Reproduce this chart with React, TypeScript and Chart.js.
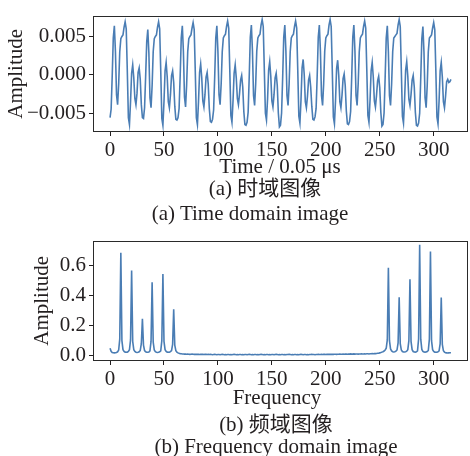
import React, { useEffect, useRef } from "react";
import { Chart, registerables } from "chart.js";

Chart.register(...registerables);

// ---------- data ----------
const timeAmplitude: number[] = [
  // 0..30
  -0.0056, -0.0045, -0.0002, 0.0048, 0.0064, 0.003, -0.0026, -0.0039, -0.0012, 0.003, 0.0047, 0.005, 0.0052, 0.0062, 0.0069, 0.006,
  0.0005, -0.0056, -0.0065, -0.0035, 0.0002, 0.0013, -0.0004, -0.0031, -0.0039, -0.0024, 0.0003, 0.0009, -0.0006, -0.0039, -0.0056,
  // 31..62
  -0.0057, -0.0043, -0.0002, 0.0043, 0.0059, 0.0028, -0.003, -0.0043, -0.0014, 0.003, 0.0047, 0.005, 0.0052, 0.0062, 0.0069, 0.006,
  0.0005, -0.0057, -0.0066, -0.0035, 0.0005, 0.0016, -0.0003, -0.0035, -0.0043, -0.0026, -0.0001, 0.0005, -0.001, -0.0041, -0.0058, -0.0059,
  // 63..94
  -0.0056, -0.0044, -0.0002, 0.0048, 0.0064, 0.003, -0.0029, -0.0042, -0.0013, 0.003, 0.0047, 0.005, 0.0052, 0.0061, 0.0068, 0.0059,
  0.0005, -0.0056, -0.0065, -0.0035, 0.0003, 0.0014, -0.0004, -0.0034, -0.0042, -0.0026, -0.0003, 0.0003, -0.0012, -0.0044, -0.0061, -0.0062,
  // 95..126
  -0.0058, -0.0046, -0.0003, 0.0048, 0.0064, 0.003, -0.0026, -0.0039, -0.0012, 0.003, 0.0048, 0.0051, 0.0053, 0.0063, 0.007, 0.0061,
  0.0006, -0.0053, -0.0062, -0.0034, 0.0002, 0.0013, -0.0004, -0.0031, -0.0039, -0.0025, -0.0007, -0.0001, -0.0016, -0.0048, -0.0065, -0.0066,
  // 127..157
  -0.0062, -0.0049, -0.0003, 0.0049, 0.0065, 0.0031, -0.0027, -0.004, -0.0012, 0.0031, 0.0048, 0.0051, 0.0053, 0.0065, 0.0072, 0.0063,
  0.0007, -0.005, -0.0059, -0.0032, 0.0006, 0.0017, -0.0002, -0.0034, -0.0042, -0.0026, -0.0004, 0.0002, -0.0014, -0.005, -0.0068,
  // 158..189
  -0.0066, -0.005, -0.0004, 0.0049, 0.0065, 0.0031, -0.0027, -0.004, -0.0012, 0.003, 0.0048, 0.0051, 0.0053, 0.0063, 0.007, 0.0061,
  0.0006, -0.0054, -0.0063, -0.0033, 0.0009, 0.002, 0.0, -0.0035, -0.0043, -0.0028, -0.0007, -0.0001, -0.0016, -0.0041, -0.0058, -0.0059,
  // 190..221
  -0.0055, -0.0044, -0.0002, 0.0049, 0.0065, 0.0031, -0.0027, -0.004, -0.0012, 0.0031, 0.0048, 0.0051, 0.0053, 0.0065, 0.0072, 0.0063,
  0.0006, -0.0055, -0.0064, -0.0034, 0.0008, 0.0019, -0.0001, -0.0035, -0.0043, -0.0027, -0.0005, 0.0001, -0.0014, -0.0047, -0.0064, -0.0065,
  // 222..252
  -0.0061, -0.0048, -0.0003, 0.0049, 0.0065, 0.0031, -0.0027, -0.004, -0.0012, 0.003, 0.0048, 0.0051, 0.0053, 0.0063, 0.007, 0.0061,
  0.0006, -0.0053, -0.0062, -0.0033, 0.0005, 0.0016, -0.0003, -0.0034, -0.0042, -0.0027, -0.0008, -0.0002, -0.0017, -0.0049, -0.0067,
  // 253..285
  -0.0065, -0.005, -0.0004, 0.0048, 0.0064, 0.003, -0.0027, -0.004, -0.0012, 0.003, 0.0048, 0.005, 0.0052, 0.0054, 0.0065, 0.0072, 0.0063,
  0.0006, -0.0054, -0.0063, -0.0033, 0.0006, 0.0017, -0.0002, -0.0032, -0.004, -0.0026, -0.0007, -0.0001, -0.0016, -0.0049, -0.0066, -0.0067,
  // 286..316
  -0.0063, -0.005, -0.0004, 0.0047, 0.0063, 0.0029, -0.003, -0.0043, -0.0014, 0.003, 0.0048, 0.005, 0.0052, 0.0061, 0.0068, 0.0059,
  0.0005, -0.0055, -0.0064, -0.0034, 0.0005, 0.0016, -0.0003, -0.0035, -0.0043, -0.0028, -0.0009, -0.0006, -0.001, -0.0009, -0.0006,
];

const freqAmplitude: number[] = [
  0.05, 0.03, 0.022, 0.02, 0.019, 0.02, 0.022, 0.026, 0.038,
  0.11, 0.685, 0.1, 0.04,
  0.028, 0.024, 0.023, 0.024, 0.028,
  0.04, 0.105, 0.566, 0.095, 0.04,
  0.028, 0.023, 0.022, 0.023, 0.026,
  0.035, 0.08, 0.246, 0.07, 0.034,
  0.026, 0.023, 0.023, 0.025, 0.032,
  0.095, 0.488, 0.09, 0.038, 0.027,
  0.023, 0.022, 0.023, 0.026, 0.032,
  0.1, 0.543, 0.095, 0.04, 0.028,
  0.024, 0.023, 0.024, 0.027, 0.034,
  0.075, 0.309, 0.07, 0.034, 0.024,
  0.019, 0.016, 0.014, 0.013, 0.012, 0.012, 0.011, 0.011,
  0.01, 0.011, 0.01, 0.009, 0.01, 0.011, 0.01, 0.009, 0.01, 0.009,
  0.01, 0.009, 0.008, 0.009, 0.01, 0.009, 0.008, 0.009, 0.009, 0.008,
  0.009, 0.008, 0.009, 0.008, 0.007, 0.008, 0.009, 0.008, 0.007, 0.008,
  0.008, 0.007, 0.008, 0.009, 0.008, 0.007, 0.008, 0.007, 0.008, 0.008,
  0.007, 0.008, 0.007, 0.008, 0.009, 0.008, 0.007, 0.008, 0.007, 0.008,
  0.008, 0.007, 0.008, 0.007, 0.008, 0.008, 0.007, 0.008, 0.009, 0.008,
  0.007, 0.008, 0.007, 0.008, 0.008, 0.007, 0.008, 0.007, 0.008, 0.009,
  0.008, 0.007, 0.008, 0.007, 0.008, 0.008, 0.007, 0.008, 0.007, 0.008,
  0.008, 0.007, 0.008, 0.009, 0.008, 0.007, 0.008, 0.007, 0.008, 0.008,
  0.007, 0.008, 0.007, 0.008, 0.008, 0.009, 0.008, 0.007, 0.008, 0.007,
  0.008, 0.008, 0.007, 0.008, 0.007, 0.008, 0.009, 0.008, 0.007, 0.008,
  0.008, 0.007, 0.008, 0.007, 0.008, 0.008, 0.009, 0.008, 0.008, 0.007,
  0.008, 0.008, 0.009, 0.008, 0.008, 0.009, 0.008, 0.009, 0.009, 0.008,
  0.009, 0.009, 0.01, 0.009, 0.009, 0.01, 0.009, 0.01, 0.01, 0.009,
  0.01, 0.01, 0.011, 0.01, 0.01, 0.011, 0.01, 0.011, 0.011, 0.01,
  0.011, 0.011, 0.012, 0.011, 0.011, 0.012, 0.011, 0.012, 0.012, 0.011,
  0.012, 0.012, 0.013, 0.012, 0.012, 0.013, 0.012, 0.013, 0.013, 0.012,
  0.013, 0.013, 0.014, 0.013, 0.014, 0.014, 0.015, 0.016, 0.017, 0.019,
  0.021, 0.024, 0.027, 0.031, 0.038, 0.05,
  0.105, 0.585, 0.1, 0.045,
  0.032, 0.027, 0.025, 0.026, 0.03,
  0.038, 0.085, 0.389, 0.08, 0.038,
  0.028, 0.025, 0.025, 0.027, 0.03,
  0.04, 0.1, 0.508, 0.095, 0.04,
  0.028, 0.025, 0.024, 0.026, 0.032,
  0.11, 0.738, 0.11, 0.042, 0.029,
  0.025, 0.024, 0.025, 0.028, 0.035,
  0.11, 0.693, 0.1, 0.04, 0.028,
  0.024, 0.023, 0.024, 0.026, 0.032,
  0.08, 0.387, 0.075, 0.033, 0.024,
  0.02, 0.019, 0.018, 0.019, 0.02, 0.02,
];

const xTickValues = [0, 50, 100, 150, 200, 250, 300];
const timeYTicks = [-0.005, 0, 0.005];
const freqYTicks = [0, 0.2, 0.4, 0.6];

const yTitle = "Amplitude";
const timeXTitle = "Time / 0.05 μs";
const freqXTitle = "Frequency";
const captionA_zh = "(a) 时域图像";
const captionA_en = "(a) Time domain image";
const captionB_zh = "(b) 频域图像";
const captionB_en = "(b) Frequency domain image";

// ---------- styling ----------
const FONT = "'Liberation Serif', 'Times New Roman', 'Noto Sans CJK SC', serif";
const TEXT = "#231f20";
const LINE = "#4a7db4";
const FS = 21;

const framePlugin = {
  id: "frame",
  afterDraw(chart: any) {
    const { ctx, chartArea: a } = chart;
    ctx.save();
    ctx.strokeStyle = "#2a2a2a";
    ctx.lineWidth = 1;
    ctx.strokeRect(Math.round(a.left) + 0.5, Math.round(a.top) + 0.5, Math.round(a.right - a.left) - 1, Math.round(a.bottom - a.top) - 1);
    ctx.restore();
  },
};

const fmtMinus = (s: string) => s.replace("-", "\u2212");

function buildChart(
  canvas: HTMLCanvasElement,
  values: number[],
  yTicks: number[],
  yDigits: number,
  yMin: number,
  yMax: number,
  padLeft: number,
  areaTop: number,
  areaBottom: number,
  canvasH: number
) {
  const points = values.map((v, i) => ({ x: i, y: v }));
  const n = values.length - 1;
  const pad = n * 0.05;
  return new Chart(canvas, {
    type: "line",
    data: {
      datasets: [
        {
          data: points,
          borderColor: LINE,
          borderWidth: 1.6,
          pointRadius: 0,
          tension: 0,
          fill: false,
        },
      ],
    },
    options: {
      animation: false,
      responsive: false,
      devicePixelRatio: 1,
      layout: { padding: { left: padLeft, right: 2, top: areaTop, bottom: 0 } },
      plugins: { legend: { display: false }, tooltip: { enabled: false }, title: { display: false } },
      scales: {
        x: {
          type: "linear",
          min: -pad,
          max: n + pad,
          afterBuildTicks: (s: any) => {
            s.ticks = xTickValues.map((v) => ({ value: v }));
          },
          afterFit: (s: any) => {
            s.height = canvasH - areaBottom;
          },
          ticks: {
            font: { family: FONT, size: FS },
            color: TEXT,
            padding: 2,
            maxRotation: 0,
            autoSkip: false,
            callback: (v: any) => String(v),
          },
          grid: { display: true, drawOnChartArea: false, drawTicks: true, tickLength: 4, color: TEXT, lineWidth: 1 },
          border: { display: false },
        },
        y: {
          type: "linear",
          min: yMin,
          max: yMax,
          afterBuildTicks: (s: any) => {
            s.ticks = yTicks.map((v) => ({ value: v }));
          },
          afterFit: (s: any) => {
            s.width = 93 - padLeft;
          },
          ticks: {
            font: { family: FONT, size: FS },
            color: TEXT,
            padding: 3,
            autoSkip: false,
            callback: (v: any) => fmtMinus(Number(v).toFixed(yDigits)),
          },
          grid: { display: true, drawOnChartArea: false, drawTicks: true, tickLength: 4, color: TEXT, lineWidth: 1 },
          border: { display: false },
          title: {
            display: true,
            text: yTitle,
            font: { family: FONT, size: FS },
            color: TEXT,
            padding: { top: 4, bottom: 4 },
          },
        },
      },
    },
    plugins: [framePlugin],
  } as any);
}

const Label = ({ text, cx, cy }: { text: string; cx: number; cy: number }) => (
  <div
    style={{
      position: "absolute",
      left: cx - 220,
      width: 440,
      top: cy - 12,
      height: 24,
      lineHeight: "24px",
      textAlign: "center",
      fontFamily: FONT,
      fontSize: FS,
      color: TEXT,
      whiteSpace: "nowrap",
    }}
  >
    {text}
  </div>
);

export default function App() {
  const topRef = useRef<HTMLCanvasElement | null>(null);
  const botRef = useRef<HTMLCanvasElement | null>(null);

  useEffect(() => {
    Chart.defaults.font.family = FONT;
    const c1 = buildChart(topRef.current!, timeAmplitude, timeYTicks, 3, -0.00747, 0.00772, 0, 12, 132, 175);
    const c2 = buildChart(botRef.current!, freqAmplitude, freqYTicks, 1, -0.035, 0.765, 26, 15, 136, 175);
    return () => {
      c1.destroy();
      c2.destroy();
    };
  }, []);

  return (
    <div style={{ position: "fixed", left: 0, top: 0, width: 470, height: 456, background: "#fff", overflow: "hidden" }}>
      <canvas ref={topRef} width={470} height={175} style={{ position: "absolute", left: 0, top: 0 }} />
      <canvas ref={botRef} width={470} height={175} style={{ position: "absolute", left: 0, top: 225 }} />
      <Label text={timeXTitle} cx={280} cy={166} />
      <Label text={captionA_zh} cx={265} cy={188} />
      <Label text={captionA_en} cx={250} cy={213} />
      <Label text={freqXTitle} cx={277} cy={397} />
      <Label text={captionB_zh} cx={276} cy={424} />
      <Label text={captionB_en} cx={276} cy={446} />
    </div>
  );
}
